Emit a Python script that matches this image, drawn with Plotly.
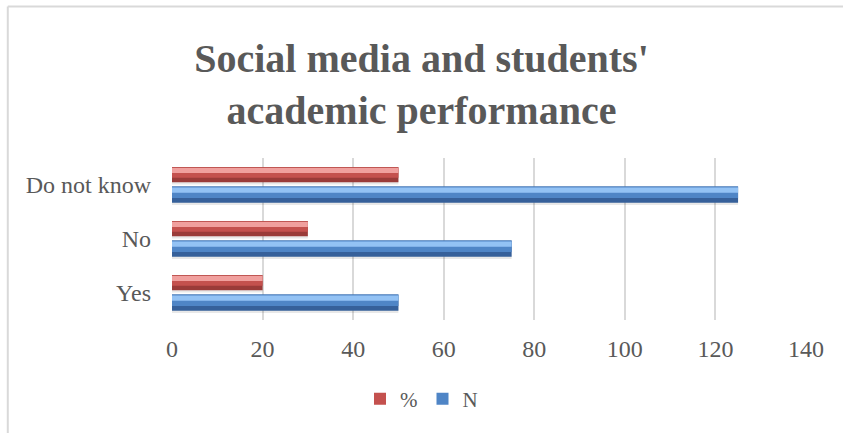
import plotly.graph_objects as go

# Survey responses
categories = ["Yes", "No", "Do not know"]
n_values = [50, 75, 125]
pct_values = [20, 30, 50]
x_ticks = [0, 20, 40, 60, 80, 100, 120, 140]

FONT = "Liberation Serif, Times New Roman, serif"
GREY = "#595959"

# Bevelled bar look: dark lower band, main body, light upper band
series = [
    # name, values, bar offset, bar width, (dark, main, light), legend rank
    ("%", pct_values, 0.05, 0.28, ("#9A3B39", "#C4514E", "#F0A09E"), 1),
    ("N", n_values, -0.33, 0.30, ("#36609A", "#4F85C6", "#93C2F4"), 2),
]

fig = go.Figure()
for name, vals, off, w, (dark, main, light), rank in series:
    # soft drop shadow
    fig.add_trace(go.Bar(
        y=categories, x=vals, orientation="h", offset=off - 0.04, width=w,
        marker=dict(color="rgba(0,0,0,0.09)", line_width=0),
        showlegend=False, hoverinfo="skip"))
    # darker lower band (full bar)
    fig.add_trace(go.Bar(
        y=categories, x=vals, orientation="h", offset=off, width=w,
        marker=dict(color=dark, line_width=0),
        showlegend=False, hoverinfo="skip"))
    # main body
    fig.add_trace(go.Bar(
        y=categories, x=vals, orientation="h", offset=off + 0.3 * w, width=0.7 * w,
        marker=dict(color=main, line_width=0),
        name=name, legendrank=rank, showlegend=True))
    # light upper band
    fig.add_trace(go.Bar(
        y=categories, x=vals, orientation="h", offset=off + 0.62 * w, width=0.32 * w,
        marker=dict(color=light, line_width=0),
        showlegend=False, hoverinfo="skip"))

# Outer chart frame (left and top edges)
fig.add_shape(type="line", xref="paper", yref="paper",
              x0=-0.259, x1=-0.259, y0=-0.8, y1=1.935,
              line=dict(color="#D9D9D9", width=2))
fig.add_shape(type="line", xref="paper", yref="paper",
              x0=-0.259, x1=1.2, y0=1.935, y1=1.935,
              line=dict(color="#D9D9D9", width=2))

fig.update_layout(
    width=843, height=433,
    margin=dict(l=172, r=37, t=158, b=113),
    paper_bgcolor="white", plot_bgcolor="white",
    barmode="overlay",
    font=dict(family=FONT, color=GREY),
    title=dict(
        text="<b>Social media and students'<br>academic performance</b>",
        x=0.5, xref="container", xanchor="center",
        y=1 - 72 / 433, yref="container", yanchor="middle",
        font=dict(family=FONT, size=40, color=GREY),
    ),
    xaxis=dict(
        range=[0, 140], tickvals=x_ticks, ticktext=[str(t) for t in x_ticks],
        showgrid=True, gridcolor="#D9D9D9", gridwidth=1.5,
        zeroline=False, showline=False, ticks="",
        tickfont=dict(family=FONT, size=24, color=GREY),
        ticklabelstandoff=12,
    ),
    yaxis=dict(
        categoryorder="array", categoryarray=categories,
        range=[-0.5, 2.5], showgrid=False, zeroline=False, showline=False,
        ticks="", tickfont=dict(family=FONT, size=24, color=GREY),
        ticklabelstandoff=20,
    ),
    legend=dict(
        orientation="h", x=0.5, xanchor="center", xref="container",
        y=1 - 399 / 433, yref="container", yanchor="middle",
        font=dict(family=FONT, size=21, color=GREY),
        itemwidth=30, traceorder="normal",
    ),
)

fig.write_html("out.html")
